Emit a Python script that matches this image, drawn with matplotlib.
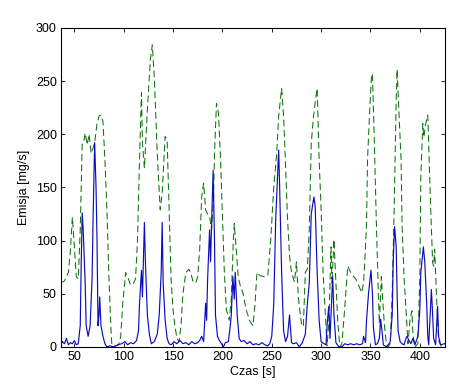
import numpy as np
import matplotlib
matplotlib.use("Agg")
import matplotlib.pyplot as plt

# green dashed series (time [s], emission [mg/s])
t_green = [36, 40, 44, 46, 48, 50, 52, 54, 56, 58, 60, 61, 63, 65, 67, 69, 71, 73, 75, 77,
           79, 81, 83, 85, 87, 88, 92, 95, 97, 99, 102, 104, 107, 110, 112, 114, 116, 118, 119, 121,
           124, 127, 129, 131, 134, 137, 139, 142, 144, 146, 148, 150, 152, 154, 156, 158, 160, 163, 166, 168,
           170, 173, 175, 177, 179, 181, 183, 185, 187, 189, 191, 192, 194, 196, 198, 200, 202, 204, 207, 209,
           211, 212, 214, 216, 218, 221, 224, 228, 231, 233, 235, 238, 243, 246, 249, 252, 255, 257, 260, 262,
           264, 266, 268, 270, 273, 275, 277, 280, 282, 284, 286, 288, 290, 292, 294, 296, 298, 300, 302, 304,
           306, 308, 309, 310, 311, 313, 315, 317, 319, 321, 323, 325, 327, 330, 333, 335, 338, 341, 343, 344,
           346, 347, 349, 351, 352, 354, 356, 358, 359, 361, 362, 364, 366, 368, 370, 372, 374, 376, 377, 379,
           381, 382, 384, 386, 388, 390, 392, 393, 395, 398, 400, 401, 403, 404, 406, 408, 409, 411, 413, 414,
           415, 417, 419, 422, 425]
v_green = [60, 62, 70, 90, 122, 95, 66, 64, 110, 192, 195, 201, 190, 200, 182, 187, 195, 210, 217, 218,
           212, 176, 129, 66, 19, 2, 1, 2, 10, 40, 70, 66, 58, 60, 64, 100, 175, 239, 192, 168,
           223, 270, 284, 254, 182, 129, 145, 198, 195, 129, 64, 35, 19, 8, 5, 19, 50, 70, 73, 70,
           62, 60, 66, 92, 141, 154, 129, 125, 123, 110, 140, 182, 229, 220, 180, 123, 70, 35, 25, 45,
           98, 116, 92, 66, 58, 50, 35, 24, 20, 40, 70, 67, 66, 67, 101, 150, 182, 217, 243, 217,
           170, 120, 86, 70, 61, 80, 46, 22, 19, 70, 73, 110, 191, 214, 230, 243, 176, 129, 70, 35,
           1, 25, 60, 94, 60, 101, 60, 22, 0, 3, 25, 50, 76, 70, 66, 64, 58, 51, 60, 76,
           115, 176, 218, 254, 257, 190, 115, 50, 22, 66, 50, 22, 3, 0, 3, 50, 129, 230, 261, 217,
           176, 115, 66, 35, 3, 25, 34, 12, 0, 3, 66, 160, 210, 197, 210, 218, 190, 129, 79, 76,
           92, 45, 6, 0, 0]

# blue solid series
t_blue = [36, 38, 40, 42, 44, 46, 48, 50, 52, 54, 56, 57, 58, 59, 61, 62, 64, 66, 68, 69,
          70.6, 72, 73, 74, 75, 75.7, 77, 79, 81, 83, 86, 90, 94, 98, 101, 104, 107, 110, 113, 115,
          116, 118, 119, 121, 122, 124, 126, 128, 131, 134, 136, 138, 139, 140, 142, 144, 146, 148, 151, 154,
          157, 160, 163, 166, 169, 172, 175, 177, 179, 181, 183, 184, 185, 187, 188, 190.6, 192, 193, 195, 197,
          199, 201, 203, 206, 208, 209, 210.6, 212, 213, 215, 217, 219, 222, 225, 228, 231, 234, 237, 240, 243,
          246, 248, 250, 252, 254, 257, 258, 260, 262, 264, 266, 268, 270, 272, 275, 278, 281, 284, 286, 288,
          290, 292.7, 294, 296, 298, 300, 303, 305, 306, 307.7, 309, 310, 311.7, 313, 315, 318, 321, 324, 327, 330,
          333, 336, 339, 342, 343, 345, 346, 348, 350.5, 352, 353, 355, 357, 359, 360.3, 362, 363, 366, 368, 370,
          372, 373, 374.4, 376, 377, 378, 380, 382, 384, 386, 387, 389, 391, 393, 395, 398, 400, 401, 403.6, 405,
          407, 408, 409, 411.7, 413, 414, 416, 418, 419, 421, 425]
v_blue = [2, 5, 3, 8, 2, 4, 3, 6, 2, 3, 20, 80, 126, 110, 60, 20, 10, 20, 65, 120,
          192, 150, 100, 20, 30, 47, 20, 10, 3, 0, 1, 0, 2, 3, 5, 2, 4, 3, 6, 15,
          40, 72, 47, 117, 80, 30, 12, 3, 5, 12, 30, 70, 117, 60, 25, 8, 3, 2, 5, 3,
          6, 3, 4, 2, 5, 3, 4, 6, 10, 5, 41, 25, 63, 110, 80, 166, 100, 30, 10, 6,
          3, 0, 4, 5, 20, 30, 66, 45, 70, 30, 8, 5, 6, 3, 5, 2, 3, 2, 4, 2,
          1, 3, 10, 40, 120, 185, 150, 70, 15, 5, 10, 30, 4, 3, 4, 0, 4, 12, 40, 60,
          125, 141, 132, 70, 25, 5, 3, 2, 20, 38, 8, 30, 66, 30, 4, 0, 0, 3, 2, 3,
          2, 3, 2, 3, 10, 4, 25, 50, 72, 50, 18, 2, 3, 8, 26, 12, 2, 0, 2, 5,
          30, 80, 113, 95, 50, 15, 5, 3, 2, 8, 10, 6, 3, 8, 2, 10, 35, 70, 94, 80,
          40, 10, 2, 54, 30, 8, 2, 38, 10, 2, 3]

plt.rcParams['font.family'] = ['Liberation Sans', 'DejaVu Sans']

fig = plt.figure(figsize=(4.6, 3.92), dpi=100)
ax = fig.add_axes([0.1326, 0.115, 0.8348, 0.814])

ax.plot(t_green, v_green, color=(0.05, 0.45, 0.05), linestyle='--', linewidth=0.75, dashes=(6.5, 3.5))
ax.plot(t_blue, v_blue, color=(0.05, 0.05, 0.75), linewidth=0.85)

ax.set_xlim(36.5, 425.5)
ax.set_ylim(0, 300)
ax.set_xticks(np.arange(50, 401, 50))
ax.set_yticks(np.arange(0, 301, 50))
ax.tick_params(direction='in', top=True, right=True, length=3, width=0.6, labelsize=9, pad=3)
for s in ax.spines.values():
    s.set_linewidth(0.8)

ax.set_xlabel("Czas [s]", fontsize=9, labelpad=2)
ax.set_ylabel("Emisja [mg/s]", fontsize=9, labelpad=4)

fig.savefig("out.png", dpi=100)
